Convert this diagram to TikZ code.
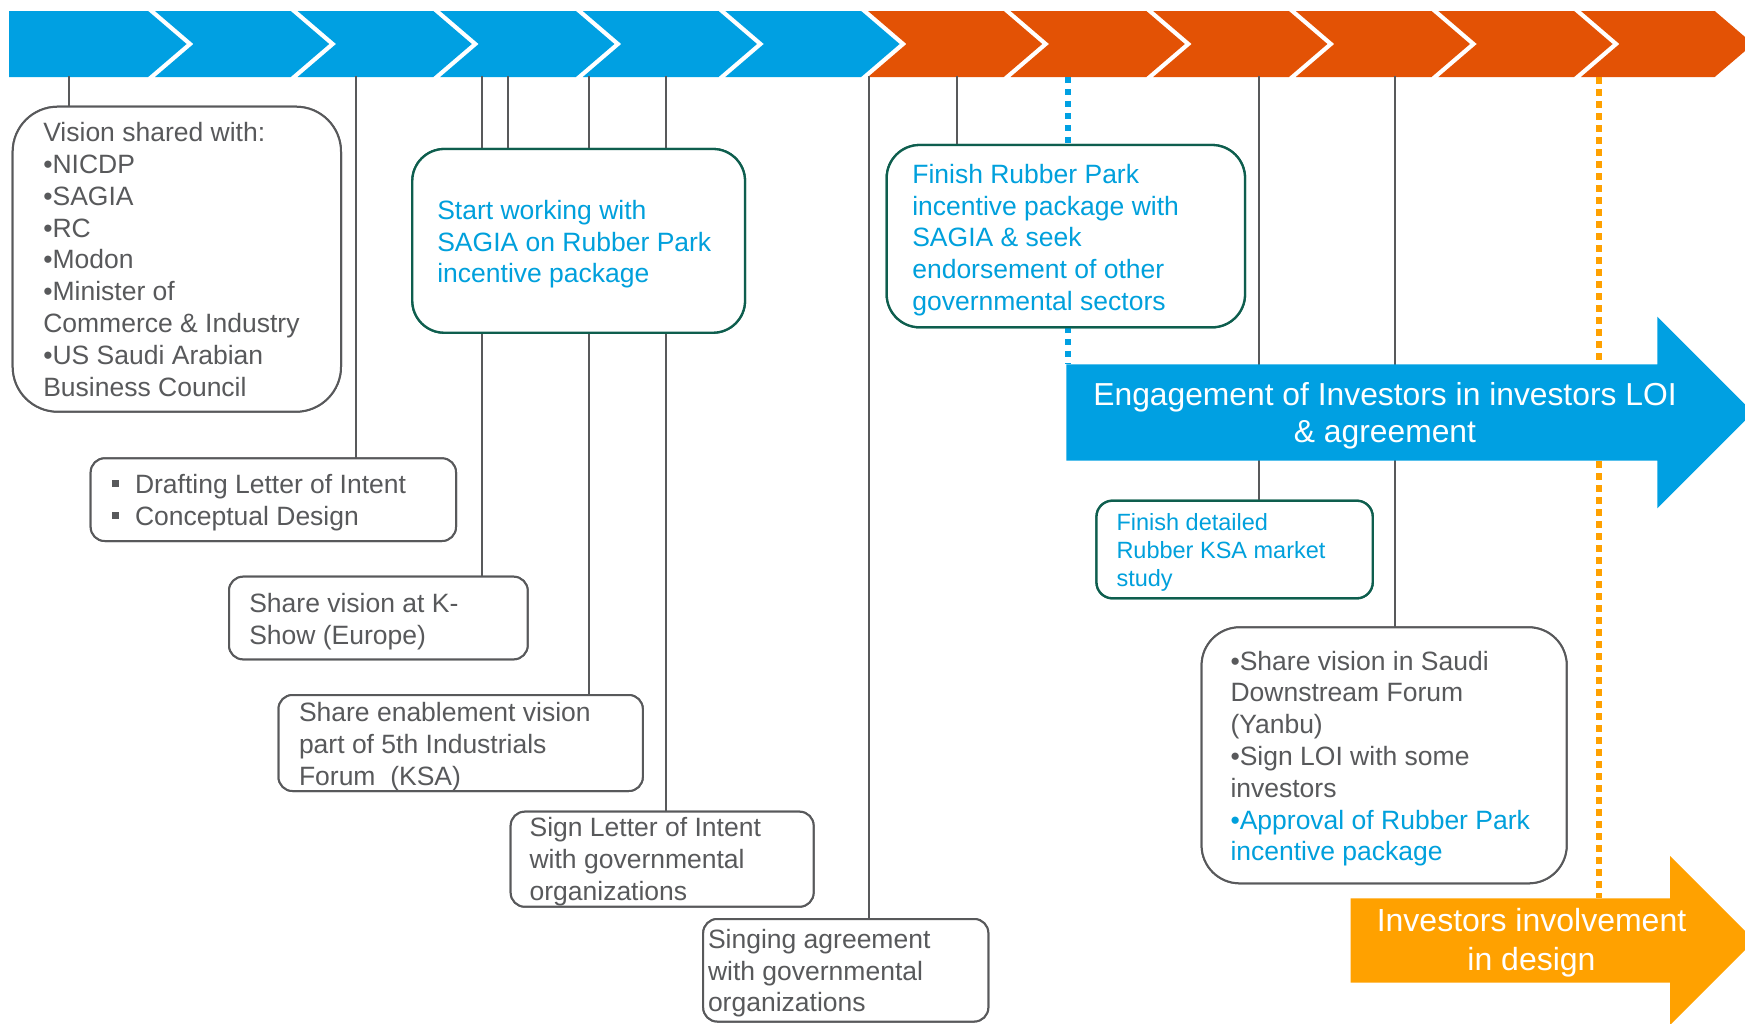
\documentclass[tikz,border=0pt]{standalone}
\usepackage{fontspec}
\setmainfont{Liberation Sans}
\definecolor{bandblue}{HTML}{00A0E2}
\definecolor{bandorange}{HTML}{E35205}
\definecolor{arroworange}{HTML}{FFA100}
\definecolor{txtgray}{HTML}{58595B}
\definecolor{txtblue}{HTML}{00A0DC}
\definecolor{boxgreen}{HTML}{0E5E4E}
\newcommand{\chevpiece}[3]{\fill[#3] (#1,11) -- (#2,11) -- ++(38.5,33) -- (#2,77) -- (#1,77) -- ++(38.5,-33) -- cycle;}
\newcommand{\tbox}[2]{\parbox[t]{#1pt}{\raggedright\fontsize{26.5}{31.8}\selectfont #2}}
\newcommand{\sqb}{\makebox[22.7pt][l]{\rule[6.5pt]{7pt}{7pt}}}
\tikzset{
  gbox/.style={draw=txtgray, line width=2pt, fill=white, inner sep=0pt, outer sep=0pt},
  grbox/.style={draw=boxgreen, line width=2.3pt, fill=white, inner sep=0pt, outer sep=0pt},
  conn/.style={draw=txtgray, line width=2pt},
  bdot/.style={draw=bandblue, line width=5.5pt, dash pattern=on 6pt off 6pt},
  odot/.style={draw=arroworange, line width=5.5pt, dash pattern=on 6.5pt off 5.5pt},
  lbl/.style={inner sep=0pt, outer sep=0pt, anchor=base west, text=txtgray},
  blbl/.style={lbl, text=txtblue},
  albl/.style={inner sep=0pt, outer sep=0pt, anchor=base, text=white},
}
\begin{document}
\begin{tikzpicture}[x=1pt, y=-1pt]
\clip (0,0) rectangle (1745,1023);
\fill[white] (0,0) rectangle (1745,1023);
% chevron band
\fill[bandblue] (9,11) -- (148.1,11) -- ++(38.5,33) -- (148.1,77) -- (9,77) -- cycle;
\chevpiece{155.0}{290.7}{bandblue}
\chevpiece{297.6}{433.3}{bandblue}
\chevpiece{440.2}{575.9}{bandblue}
\chevpiece{582.8}{718.5}{bandblue}
\chevpiece{725.4}{861.1}{bandblue}
\chevpiece{868.0}{1003.7}{bandorange}
\chevpiece{1010.6}{1146.3}{bandorange}
\chevpiece{1153.2}{1288.9}{bandorange}
\chevpiece{1295.8}{1431.5}{bandorange}
\chevpiece{1438.4}{1574.1}{bandorange}
\chevpiece{1581.0}{1714.7}{bandorange}
% boxes (positions)
\path
  node[gbox, rounded corners=45pt, minimum width=328.3pt, minimum height=305pt] (b1) at (176.85,259.2) {}
  node[gbox, rounded corners=14pt, minimum width=365.3pt, minimum height=82.7pt] (b2) at (273.35,499.65) {}
  node[gbox, rounded corners=14pt, minimum width=298.7pt, minimum height=82.6pt] (b3) at (378.35,618) {}
  node[gbox, rounded corners=14pt, minimum width=364.3pt, minimum height=96pt] (b4) at (460.65,743) {}
  node[gbox, rounded corners=14pt, minimum width=302.9pt, minimum height=95pt] (b5) at (662.15,859.2) {}
  node[gbox, rounded corners=14pt, minimum width=285.1pt, minimum height=102.5pt] (b6) at (845.75,970.25) {}
  node[grbox, rounded corners=32pt, minimum width=332.7pt, minimum height=183.7pt] (g1) at (578.65,240.85) {}
  node[grbox, rounded corners=33pt, minimum width=358.3pt, minimum height=182.3pt] (g2) at (1065.85,236.15) {}
  node[grbox, rounded corners=16pt, minimum width=276.2pt, minimum height=97.6pt] (g3) at (1234.6,549.5) {}
  node[gbox, rounded corners=38pt, minimum width=365.1pt, minimum height=256pt] (b7) at (1384.15,755.3) {};
% connector anchors on the band
\coordinate (c1) at (69,76);
\coordinate (c2) at (356,76);
\coordinate (c3) at (481.7,76);
\coordinate (c4) at (507.5,76);
\coordinate (c5) at (588.5,76);
\coordinate (c6) at (666,76);
\coordinate (c7) at (869.3,76);
\coordinate (c8) at (957.3,76);
\coordinate (c9) at (1258.5,76);
\coordinate (c10) at (1394.7,76);
\coordinate (c11) at (1068,77);
\coordinate (c12) at (1598.8,77);
\coordinate (engtop) at (1068,364.3);
\coordinate (invtop) at (1598.8,898.3);
% connectors (drawn beneath boxes)
\draw[conn] (c1) -- (c1 |- b1.north);
\draw[conn] (c2) -- (c2 |- b2.north);
\draw[conn] (c3) -- (c3 |- b3.north);
\draw[conn] (c4) -- (c4 |- g1.north);
\draw[conn] (c5) -- (c5 |- b4.north);
\draw[conn] (c6) -- ([yshift=-5pt]c6 |- b5.north);
\draw[conn] (c7) -- (c7 |- b6.north);
\draw[conn] (c8) -- (c8 |- g2.north);
\draw[conn] (c9) -- (c9 |- g3.north);
\draw[conn] (c10) -- (c10 |- b7.north);
\draw[bdot] (c11) -- (c11 |- g2.north);
\draw[bdot] (c11 |- g2.south) -- (engtop);
\draw[odot] (c12) -- (invtop);
% redraw boxes on top of connectors
\path
  node[gbox, rounded corners=45pt, minimum width=328.3pt, minimum height=305pt] at (b1) {}
  node[gbox, rounded corners=14pt, minimum width=365.3pt, minimum height=82.7pt] at (b2) {}
  node[gbox, rounded corners=14pt, minimum width=298.7pt, minimum height=82.6pt] at (b3) {}
  node[gbox, rounded corners=14pt, minimum width=364.3pt, minimum height=96pt] at (b4) {}
  node[gbox, rounded corners=14pt, minimum width=302.9pt, minimum height=95pt] at (b5) {}
  node[gbox, rounded corners=14pt, minimum width=285.1pt, minimum height=102.5pt] at (b6) {}
  node[grbox, rounded corners=32pt, minimum width=332.7pt, minimum height=183.7pt] at (g1) {}
  node[grbox, rounded corners=33pt, minimum width=358.3pt, minimum height=182.3pt] at (g2) {}
  node[grbox, rounded corners=16pt, minimum width=276.2pt, minimum height=97.6pt] at (g3) {}
  node[gbox, rounded corners=38pt, minimum width=365.1pt, minimum height=256pt] at (b7) {};
% big arrows
\fill[bandblue] (1066.4,364.3) -- (1657.3,364.3) -- (1657.3,316.7) -- (1753,412.5) -- (1657.3,508.3) -- (1657.3,460.7) -- (1066.4,460.7) -- cycle;
\fill[arroworange] (1350.5,898.3) -- (1670,898.3) -- (1670,856) -- (1754.5,940.5) -- (1670,1025) -- (1670,982.7) -- (1350.5,982.7) -- cycle;
% texts
\node[lbl] (t1) at (43.3,141.7) {\tbox{290}{Vision shared with:\\•NICDP\\•SAGIA\\•RC\\•Modon\\•Minister of\\Commerce \& Industry\\•US Saudi Arabian\\Business Council}};
\node[lbl] (t2) at (112.3,493.3) {\tbox{340}{\sqb Drafting Letter of Intent\\\sqb Conceptual Design}};
\node[lbl] (t3) at (249.3,612.7) {\tbox{270}{Share vision at K-\\Show (Europe)}};
\node[lbl] (t4) at (299,721.7) {\tbox{340}{Share enablement vision\\part of 5th Industrials\\Forum\ \ (KSA)}};
\node[lbl] (t5) at (529.6,836.7) {\tbox{280}{Sign Letter of Intent\\with governmental\\organizations}};
\node[lbl] (t6) at (708,948.3) {\tbox{280}{Singing agreement\\with governmental\\organizations}};
\node[blbl] (t7) at (437.3,219.3) {\tbox{300}{Start working with\\SAGIA on Rubber Park\\incentive package}};
\node[blbl] (t8) at (912.3,183.3) {\tbox{330}{Finish Rubber Park\\incentive package with\\SAGIA \& seek\\endorsement of other\\governmental sectors}};
\node[blbl] (t9) at (1116.5,530) {\parbox[t]{250pt}{\raggedright\fontsize{23.5}{28.3}\selectfont Finish detailed\\Rubber KSA market\\study}};
\node[lbl] (t10) at (1230.5,670) {\tbox{330}{•Share vision in Saudi\\Downstream Forum\\(Yanbu)\\•Sign LOI with some\\investors\\{\color{txtblue}•Approval of Rubber Park\\incentive package}}};
\node[albl] (t11) at (1385,405) {\parbox[t]{700pt}{\centering\fontsize{31.8}{37.7}\selectfont Engagement of Investors in investors LOI\\\& agreement}};
\node[albl] (t12) at (1531.5,931.7) {\parbox[t]{400pt}{\centering\fontsize{32}{39}\selectfont Investors involvement\\in design}};
\end{tikzpicture}
\end{document}
